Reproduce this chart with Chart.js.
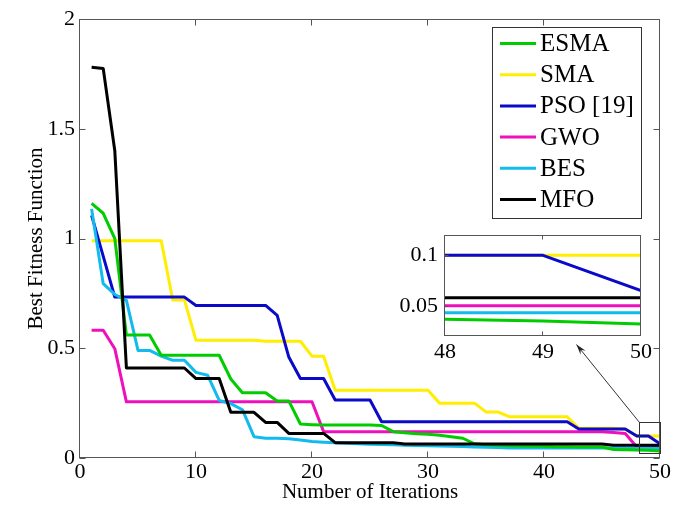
<!DOCTYPE html>
<html><head><meta charset="utf-8">
<script src="https://cdn.jsdelivr.net/npm/chart.js@4.4.0/dist/chart.umd.min.js"></script>
<style>
html,body{margin:0;padding:0;background:#fff;}
#wrap{position:relative;width:688px;height:513px;overflow:hidden;}
#main{position:absolute;left:0;top:0;}
#inset{position:absolute;left:380px;top:215px;}
</style></head><body>
<div id="wrap"><canvas id="main" width="688" height="513"></canvas><canvas id="inset" width="280" height="150"></canvas></div>
<script>
// ---------- data ----------
const iterations = [1,2,3,4,5,6,7,8,9,10,11,12,13,14,15,16,17,18,19,20,21,22,23,24,25,26,27,28,29,30,31,32,33,34,35,36,37,38,39,40,41,42,43,44,45,46,47,48,49,50];
const seriesNames = ['ESMA','SMA','PSO [19]','GWO','BES','MFO'];
const esma = [1.16,1.115,1.0,0.56,0.56,0.56,0.468,0.468,0.468,0.468,0.468,0.468,0.36,0.297,0.297,0.297,0.26,0.26,0.155,0.152,0.15,0.15,0.15,0.15,0.15,0.148,0.12,0.115,0.11,0.108,0.104,0.097,0.09,0.065,0.06,0.058,0.056,0.055,0.054,0.053,0.051,0.051,0.05,0.05,0.05,0.039,0.038,0.0365,0.035,0.032];
const sma = [0.99,0.99,0.99,0.99,0.99,0.99,0.99,0.72,0.72,0.536,0.536,0.536,0.536,0.536,0.536,0.532,0.532,0.532,0.532,0.464,0.464,0.309,0.309,0.309,0.309,0.309,0.309,0.309,0.309,0.309,0.25,0.25,0.25,0.25,0.21,0.21,0.188,0.188,0.188,0.188,0.188,0.188,0.135,0.135,0.135,0.135,0.132,0.1,0.1,0.1];
const pso = [1.105,0.92,0.733,0.733,0.733,0.733,0.733,0.733,0.733,0.695,0.695,0.695,0.695,0.695,0.695,0.695,0.65,0.46,0.362,0.362,0.362,0.264,0.264,0.264,0.264,0.165,0.165,0.165,0.165,0.165,0.165,0.165,0.165,0.165,0.165,0.165,0.165,0.165,0.165,0.165,0.165,0.165,0.132,0.132,0.132,0.132,0.132,0.1,0.1,0.065];
const gwo = [0.582,0.582,0.498,0.256,0.256,0.256,0.256,0.256,0.256,0.256,0.256,0.256,0.256,0.256,0.256,0.256,0.256,0.256,0.256,0.256,0.12,0.12,0.12,0.12,0.12,0.12,0.12,0.12,0.12,0.12,0.12,0.12,0.12,0.12,0.12,0.12,0.12,0.12,0.12,0.12,0.12,0.12,0.12,0.12,0.12,0.116,0.112,0.05,0.05,0.05];
const bes = [1.135,0.794,0.745,0.718,0.49,0.49,0.464,0.445,0.445,0.39,0.377,0.262,0.248,0.22,0.097,0.09,0.09,0.088,0.082,0.075,0.072,0.07,0.067,0.065,0.063,0.061,0.06,0.058,0.057,0.056,0.055,0.054,0.052,0.05,0.049,0.048,0.045,0.045,0.045,0.045,0.045,0.045,0.045,0.045,0.045,0.045,0.045,0.043,0.043,0.043];
const mfo = [1.78,1.775,1.40,0.41,0.41,0.41,0.41,0.41,0.41,0.362,0.362,0.362,0.208,0.208,0.208,0.162,0.162,0.112,0.112,0.112,0.112,0.07,0.07,0.07,0.07,0.07,0.07,0.064,0.064,0.064,0.064,0.064,0.064,0.064,0.064,0.064,0.064,0.064,0.064,0.064,0.064,0.064,0.064,0.064,0.064,0.058,0.058,0.058,0.058,0.058];
const seriesValues = [esma, sma, pso, gwo, bes, mfo];
const seriesColors = ['#00cc00','#ffee00','#0a0ac8','#ee11bb','#11bbee','#000000'];
const drawOrder = [1,5,3,4,2,0];

const mainXTicks = [0,10,20,30,40,50];
const mainXLabels = ['0','10','20','30','40','50'];
const mainYTicks = [0,0.5,1,1.5,2];
const mainYLabels = ['0','0.5','1','1.5','2'];
const insetXTicks = [48,49,50];
const insetXLabels = ['48','49','50'];
const insetYTicks = [0.05,0.1];
const insetYLabels = ['0.05','0.1'];
// zoom box (data units) and arrow tip (data units)
const zoomBox = {x0:48.2, x1:50, y0:0.023, y1:0.162};
const arrowTip = {x:42.8, y:0.517};

// ---------- helpers ----------
const FONT = "'Liberation Serif','Times New Roman',serif";
function makeDatasets(){
  return seriesNames.map((n,i)=>({
    label:n,
    data: iterations.map((it,j)=>({x:it, y:seriesValues[i][j]})),
    borderColor: seriesColors[i], backgroundColor: seriesColors[i],
    borderWidth:3, pointRadius:0, tension:0, fill:false,
    borderJoinStyle:'round', order: drawOrder[i]
  }));
}
function setTicks(vals){ return function(s){ s.ticks = vals.map(v=>({value:v})); }; }
function labelFrom(vals, labels){ return function(v){ const k = vals.findIndex(t=>Math.abs(t-v)<1e-9); return k>=0?labels[k]:''; }; }

function drawFrameAndTicks(chart, len, color, both){
  const {ctx, chartArea:a, scales:{x,y}} = chart;
  ctx.save();
  ctx.strokeStyle = color; ctx.lineWidth = 1;
  const L = Math.round(a.left)-0.5, R = Math.round(a.right)-0.5, T = Math.round(a.top)+0.5, B = Math.round(a.bottom)-0.5;
  ctx.strokeRect(L, T, R-L, B-T);
  ctx.beginPath();
  x.ticks.forEach(t=>{ const px = Math.round(x.getPixelForValue(t.value))-0.5;
    ctx.moveTo(px,B); ctx.lineTo(px,B-len); ctx.moveTo(px,T); ctx.lineTo(px,T+len); });
  y.ticks.forEach(t=>{ const py = Math.round(y.getPixelForValue(t.value))+0.5;
    ctx.moveTo(L,py); ctx.lineTo(L+len,py); if(both){ ctx.moveTo(R,py); ctx.lineTo(R-len,py);} });
  ctx.stroke();
  ctx.restore();
}

const mainPlugin = {
  id:'mainDecor',
  beforeDraw(chart){ const c=chart.ctx; c.save(); c.fillStyle='#fff'; c.fillRect(0,0,chart.width,chart.height); c.restore(); },
  afterDraw(chart){
    drawFrameAndTicks(chart, 6, '#555', true);
    const {ctx, chartArea:a, scales:{x,y}} = chart;
    ctx.save();
    // zoom box
    const bx0 = x.getPixelForValue(zoomBox.x0), bx1 = x.getPixelForValue(zoomBox.x1);
    const by0 = y.getPixelForValue(zoomBox.y1), by1 = y.getPixelForValue(zoomBox.y0);
    ctx.strokeStyle = '#333'; ctx.lineWidth = 1;
    ctx.strokeRect(Math.round(bx0)+0.5, Math.round(by0)+0.5, Math.round(bx1-bx0), Math.round(by1-by0));
    // arrow
    const tx = x.getPixelForValue(arrowTip.x), ty = y.getPixelForValue(arrowTip.y);
    const sx = Math.round(bx0)+0.5, sy = Math.round(by0)+0.5;
    ctx.beginPath(); ctx.moveTo(sx,sy); ctx.lineTo(tx,ty); ctx.stroke();
    const ang = Math.atan2(ty-sy, tx-sx), hl = 11, hw = 0.3;
    ctx.fillStyle = '#222';
    ctx.beginPath(); ctx.moveTo(tx,ty);
    ctx.lineTo(tx - hl*Math.cos(ang-hw), ty - hl*Math.sin(ang-hw));
    ctx.lineTo(tx - 0.6*hl*Math.cos(ang), ty - 0.6*hl*Math.sin(ang));
    ctx.lineTo(tx - hl*Math.cos(ang+hw), ty - hl*Math.sin(ang+hw));
    ctx.closePath(); ctx.fill();
    // legend
    const lw = 149, lh = 191;
    const lx = a.right - 19 - lw, ly = a.top + 8;
    ctx.fillStyle = '#fff'; ctx.fillRect(lx, ly, lw, lh);
    ctx.strokeStyle = '#333'; ctx.strokeRect(Math.round(lx)+0.5, Math.round(ly)+0.5, lw, lh);
    ctx.font = '25px ' + FONT; ctx.textBaseline = 'middle'; ctx.textAlign = 'left';
    seriesNames.forEach((n,i)=>{
      const yy = ly + 16.5 + i*31.2;
      ctx.strokeStyle = seriesColors[i]; ctx.lineWidth = 3;
      ctx.beginPath(); ctx.moveTo(lx+8, yy); ctx.lineTo(lx+44, yy); ctx.stroke();
      ctx.fillStyle = '#000'; ctx.fillText(n, lx+48, yy+1);
    });
    ctx.restore();
  }
};

new Chart(document.getElementById('main'), {
  type:'line',
  data:{datasets: makeDatasets()},
  options:{
    responsive:false, animation:false, devicePixelRatio:1,
    layout:{padding:{top:19,right:28,left:0,bottom:0}},
    plugins:{legend:{display:false}, tooltip:{enabled:false}},
    scales:{
      x:{type:'linear', min:0, max:50,
        grid:{display:false, drawTicks:false}, border:{display:false},
        afterBuildTicks: setTicks(mainXTicks),
        ticks:{autoSkip:false, maxRotation:0, padding:1, color:'#000', font:{family:FONT, size:22}, callback: labelFrom(mainXTicks, mainXLabels)},
        title:{display:true, text:'Number of Iterations', color:'#000', font:{family:FONT, size:21}, padding:{top:0,bottom:8}},
        afterFit(s){ s.height = 55; }
      },
      y:{type:'linear', min:0, max:2,
        grid:{display:false, drawTicks:false}, border:{display:false},
        afterBuildTicks: setTicks(mainYTicks),
        ticks:{autoSkip:false, padding:5, color:'#000', font:{family:FONT, size:22}, callback: labelFrom(mainYTicks, mainYLabels)},
        title:{display:true, text:'Best Fitness Function', color:'#000', font:{family:FONT, size:21}, padding:{top:24,bottom:0}},
        afterFit(s){ s.width = 80; }
      }
    }
  },
  plugins:[mainPlugin]
});

const insetPlugin = {
  id:'insetDecor',
  beforeDatasetsDraw(chart){ const {ctx, chartArea:a} = chart; ctx.save(); ctx.fillStyle='#fff'; ctx.fillRect(a.left,a.top,a.right-a.left,a.bottom-a.top); ctx.restore(); },
  afterDraw(chart){ drawFrameAndTicks(chart, 4, '#555', false); }
};

new Chart(document.getElementById('inset'), {
  type:'line',
  data:{datasets: makeDatasets()},
  options:{
    responsive:false, animation:false, devicePixelRatio:1,
    layout:{padding:{top:11,right:19,left:0,bottom:0}},
    plugins:{legend:{display:false}, tooltip:{enabled:false}},
    scales:{
      x:{type:'linear', min:48, max:50,
        grid:{display:false, drawTicks:false}, border:{display:false},
        afterBuildTicks: setTicks(insetXTicks),
        ticks:{autoSkip:false, maxRotation:0, padding:3, color:'#000', font:{family:FONT, size:22}, callback: labelFrom(insetXTicks, insetXLabels)},
        afterFit(s){ s.height = 29; }
      },
      y:{type:'linear', min:0.02, max:0.12,
        grid:{display:false, drawTicks:false}, border:{display:false},
        afterBuildTicks: setTicks(insetYTicks),
        ticks:{autoSkip:false, padding:7, color:'#000', font:{family:FONT, size:22}, callback: labelFrom(insetYTicks, insetYLabels)},
        afterFit(s){ s.width = 65; }
      }
    }
  },
  plugins:[insetPlugin]
});
</script>
</body></html>
